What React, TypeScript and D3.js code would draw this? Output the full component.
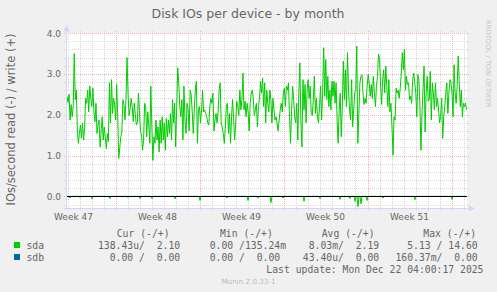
import React from "react";
import * as d3 from "d3";

const W = 497;
const H = 292;

const chartTitle = "Disk IOs per device - by month";
const yAxisLabel = "IOs/second read (-) / write (+)";
const watermark = "RRDTOOL / TOBI OETIKER";
const versionText = "Munin 2.0.33-1";
const lastUpdate = "Last update: Mon Dec 22 04:00:17 2025";

const startTime = "2025-11-18T23:00:00Z";
const endTime = "2025-12-22T07:00:00Z";
const sampleHours = 2;

const yMajorTicks = [0, 1, 2, 3, 4];
const yMinorTicks = [-0.2, 0.2, 0.4, 0.6, 0.8, 1.2, 1.4, 1.6, 1.8, 2.2, 2.4, 2.6, 2.8, 3.2, 3.4, 3.6, 3.8];

const weekLabels = ["Week 47", "Week 48", "Week 49", "Week 50", "Week 51"];
const weekGridDates = ["2025-11-23", "2025-11-30", "2025-12-07", "2025-12-14", "2025-12-21"];

// sda write (+), samples
const sdaWrite = [
  2.45, 2.3, 2.5, 1.87, 2.25, 1.95, 2.2, 3.5, 2.37, 2.6, 1.6, 1.3, 1.55, 1.75, 1.42, 1.8, 1.38, 1.67, 2.4, 2.28,
  2.6, 2.07, 2.7, 2.4, 2.2, 2.65, 2.07, 1.83, 2.28, 1.54, 1.75, 1.87, 1.21, 1.6, 1.95, 1.38, 1.7, 1.45, 1.17, 1.54,
  1.34, 2.78, 1.8, 2.86, 2.03, 2.4, 2.25, 1.87, 2.74, 1.95, 0.93, 1.2, 1.46, 1.58, 2.37, 2.25, 1.87, 2.37, 3.4, 2.5,
  1.98, 2.15, 2.4, 2.2, 1.83, 2.28, 2.0, 1.75, 1.8, 2.53, 2.1, 1.6, 1.5, 1.13, 1.38,
  2.28, 2.2, 1.46, 2.07, 1.75, 1.3, 2.7, 1.7, 0.88, 1.46, 1.3, 1.87, 1.38, 1.7, 1.09, 1.87, 1.3, 1.95, 1.38, 1.8,
  1.13, 1.91, 1.46, 1.87, 1.54, 2.03, 1.38, 2.37, 1.8, 2.28, 1.21, 2.2, 3.15, 2.78, 2.2, 1.95, 2.37, 1.38, 2.7, 1.87,
  1.54, 2.28, 2.12, 1.6, 2.6, 2.49, 2.07, 1.54, 2.12, 2.6, 2.82, 1.3, 2.12, 2.2, 1.8, 2.12, 2.6, 2.07, 2.12, 2.03,
  1.95, 1.8, 1.75, 2.2, 2.4, 2.28, 2.53, 1.6, 1.87, 2.03, 1.8, 2.07, 2.6,
  2.78, 1.8, 1.7, 1.54, 1.3, 1.7, 2.25, 2.28, 1.54, 2.03, 1.3, 1.95, 2.37, 1.87, 1.38, 1.8, 2.33, 2.2, 1.98, 2.6,
  2.12, 2.37, 3.02, 2.12, 2.33, 1.95, 2.28, 2.07, 1.6, 2.28, 2.53, 2.6, 2.4, 1.98, 2.12, 2.28, 1.7, 2.2, 2.4, 2.82,
  2.53, 2.9, 2.2, 2.78, 1.8, 2.6, 2.28, 2.07, 2.6, 2.37, 1.8, 2.4, 2.12, 1.87, 1.95, 1.8, 1.6, 1.87, 2.12, 2.28,
  2.07, 2.53, 2.65, 2.2, 2.7, 2.6, 2.78, 1.95, 1.3, 2.12, 2.7, 2.37, 1.95, 1.8, 2.28, 1.38, 2.53, 3.27, 1.8, 1.21,
  2.86, 2.12, 2.74, 1.8, 2.6, 2.86, 2.4, 2.7, 2.03, 1.98, 2.37, 2.94, 2.03, 2.4, 1.95, 1.8, 2.2, 2.7, 1.87, 2.53,
  3.64, 2.45, 3.35, 2.37, 2.94, 2.2, 2.6, 2.12, 2.82, 2.45, 2.82, 2.28, 2.78, 1.87, 1.3, 2.12, 2.53, 1.46, 2.2, 3.31,
  2.37, 3.1, 2.2, 3.52, 2.6, 2.12, 1.87, 2.86, 1.7, 2.12, 2.53, 2.6, 3.68, 1.3, 2.03, 2.78, 2.94, 2.98, 2.53, 2.25,
  2.4, 2.28, 2.7, 2.98, 2.78, 2.45, 2.74, 2.4, 2.94, 2.53, 2.2, 2.7, 2.94, 3.48, 3.35, 2.7, 2.25, 2.86, 3.1, 2.53,
  3.19, 2.7, 2.2, 2.86, 2.07, 2.28, 1.7, 1.01, 1.95, 1.87, 2.65, 2.53, 2.6, 2.4, 2.65, 3.02, 3.52, 3.1, 3.6, 2.6,
  2.94, 2.74, 2.78, 2.37, 2.45, 2.28, 2.86, 3.02, 2.78, 2.53, 1.95, 2.98, 2.86, 2.2, 1.13, 2.03, 2.6, 3.19, 1.58, 2.53,
  2.94, 2.33, 2.37, 3.06, 1.87, 2.78, 2.53, 2.12, 2.78, 2.2, 2.4, 2.12, 1.8, 1.95, 2.4, 1.42, 1.95, 2.2, 2.53, 2.78,
  2.03, 2.53, 2.86, 2.78, 2.53, 1.95, 3.22, 2.53, 2.28, 2.7, 3.44, 2.78, 2.2, 2.6, 1.95, 2.28, 2.2, 2.28, 2.12,
];

// sda read (-): near zero, with these spikes [hours after start, value]
const sdaReadSpikes: [number, number][] = [
  [6, 0.04], [26, 0.03], [50, 0.06], [86, 0.05], [122, 0.03], [146, 0.05], [170, 0.05], [216, 0.06],
  [266, 0.1], [320, 0.04], [362, 0.1], [382, 0.04], [408, 0.15], [432, 0.04], [474, 0.12], [506, 0.05],
  [546, 0.07], [566, 0.05], [576, 0.12], [582, 0.25], [588, 0.18], [600, 0.1], [632, 0.04], [696, 0.08],
  [770, 0.07],
];

const sdbValues = [0, 0];

const legendHeaders = ["Cur (-/+)", "Min (-/+)", "Avg (-/+)", "Max (-/+)"];
const seriesNames = ["sda", "sdb"];
const seriesColors = ["#00CC00", "#0066B3"];
const sdaLegend = ["138.43u/  2.10 ", "  0.00 /135.24m", "  8.03m/  2.19 ", "  5.13 / 14.60 "];
const sdbLegend = ["  0.00 /  0.00 ", "  0.00 /  0.00 ", " 43.40u/  0.00 ", "160.37m/  0.00 "];

const PLOT = { left: 67, right: 467, top: 33, bottom: 208 };
const FONT = "'DejaVu Sans', sans-serif";
const MONO = "'DejaVu Sans Mono', monospace";
const TEXT = "#666666";
const AXIS = "#CFD6F8";
const GRID = "#D6D6D6";
const MGRID = "#F0B2B2";

const px = (v: number) => Math.round(v) + 0.5;

export default function App() {
  const t0 = new Date(startTime);
  const t1 = new Date(endTime);
  const x = d3.scaleTime().domain([t0, t1]).range([PLOT.left, PLOT.right]);
  const y = d3.scaleLinear().domain([-0.283, 4]).range([PLOT.bottom, PLOT.top]);
  const hour = 3600e3;

  const idxWrite = d3.scaleLinear().domain([0, sdaWrite.length - 1]).range([t0.getTime(), t1.getTime() - hour]);
  const idxSdb = d3.scaleLinear().domain([0, sdbValues.length - 1]).range([t0.getTime(), t1.getTime() - hour]);

  const line = d3
    .line<[number, number]>()
    .x((d) => d[0])
    .y((d) => d[1]);

  const writePath = line(sdaWrite.map((v, i) => [x(new Date(idxWrite(i))), y(v)]));

  const spikeMap = new Map(sdaReadSpikes.map(([h, v]) => [h, v]));
  const readHours = d3.range(0, (t1.getTime() - t0.getTime()) / hour, sampleHours);
  const readPath = line(
    readHours.map((h) => [x(new Date(t0.getTime() + h * hour)), y(-(spikeMap.get(h) ?? 0))])
  );
  const sdbPath = line(sdbValues.map((v, i) => [x(new Date(idxSdb(i))), y(-v)]));

  const days = d3.utcDay.range(t0, t1);
  const weekDates = weekGridDates.map((d) => new Date(d + "T00:00:00Z"));
  const weekMs = 7 * 86400e3;

  const cellX = [98, 198, 297, 395.5];
  const headerX = [116.7, 220, 321.7, 423.3];

  return (
    <svg width={W} height={H} style={{ display: "block", position: "absolute", left: 0, top: 0 }}>
      <rect x={0} y={0} width={W} height={H} fill="#F0F0F0" />
      <text x={248} y={18} textAnchor="middle" fontFamily={FONT} fontSize={12.5} fill={TEXT}>
        {chartTitle}
      </text>
      <rect x={PLOT.left} y={PLOT.top} width={PLOT.right - PLOT.left} height={PLOT.bottom - PLOT.top} fill="#FFFFFF" />

      {yMinorTicks.map((v) => (
        <line key={"hm" + v} x1={PLOT.left - 3} x2={PLOT.right + 2} y1={px(y(v))} y2={px(y(v))} stroke={GRID} strokeDasharray="1,1" />
      ))}
      {days.map((d) => (
        <line key={"vm" + d.getTime()} x1={px(x(d))} x2={px(x(d))} y1={PLOT.top - 2} y2={PLOT.bottom + 2} stroke={GRID} strokeDasharray="1,1" />
      ))}
      {yMajorTicks.map((v) => (
        <line key={"hM" + v} x1={PLOT.left - 3} x2={PLOT.right + 2} y1={px(y(v))} y2={px(y(v))} stroke={MGRID} strokeDasharray="1,1" />
      ))}
      {weekDates.map((d) => (
        <line key={"vM" + d.getTime()} x1={px(x(d))} x2={px(x(d))} y1={PLOT.top - 2} y2={PLOT.bottom + 2} stroke={MGRID} strokeDasharray="1,1" />
      ))}

      {yMajorTicks.map((v) => (
        <text key={"yl" + v} x={61} y={y(v) + 3.5} textAnchor="end" fontFamily={FONT} fontSize={9} fill={TEXT}>
          {d3.format(".1f")(v)}
        </text>
      ))}
      {weekDates.map((d, i) => (
        <text key={"xl" + i} x={x(new Date(d.getTime() - weekMs / 2))} y={220} textAnchor="middle" fontFamily={FONT} fontSize={9} fill={TEXT}>
          {weekLabels[i]}
        </text>
      ))}

      <path d={writePath || ""} fill="none" stroke={seriesColors[0]} strokeWidth={1} />
      <path d={readPath || ""} fill="none" stroke={seriesColors[0]} strokeWidth={1} />
      <path d={sdbPath || ""} fill="none" stroke={seriesColors[1]} strokeWidth={1} />
      <line x1={PLOT.left} x2={PLOT.right} y1={px(y(0))} y2={px(y(0))} stroke="#000000" strokeWidth={1} />

      <line x1={PLOT.left - 0.5} x2={PLOT.left - 0.5} y1={PLOT.bottom + 2} y2={PLOT.top - 4} stroke={AXIS} />
      <path d={`M${PLOT.left - 3.5},${PLOT.top - 2} L${PLOT.left - 0.5},${PLOT.top - 8} L${PLOT.left + 2.5},${PLOT.top - 2} Z`} fill={AXIS} />
      <line x1={PLOT.left - 3} x2={PLOT.right + 3} y1={PLOT.bottom + 0.5} y2={PLOT.bottom + 0.5} stroke={AXIS} />
      <path d={`M${PLOT.right + 2},${PLOT.bottom - 2.5} L${PLOT.right + 8},${PLOT.bottom + 0.5} L${PLOT.right + 2},${PLOT.bottom + 3.5} Z`} fill={AXIS} />

      <text transform={`translate(15,${(PLOT.top + PLOT.bottom) / 2 - 1}) rotate(-90)`} textAnchor="middle" fontFamily={FONT} fontSize={11.5} fill={TEXT}>
        {yAxisLabel}
      </text>
      <text transform={`translate(486,20) rotate(90)`} textAnchor="start" fontFamily={FONT} fontSize={6.8} fill="#C4C4C4">
        {watermark}
      </text>

      {legendHeaders.map((h, i) => (
        <text key={"lh" + i} x={headerX[i]} y={237} fontFamily={MONO} fontSize={9.75} fill={TEXT} xmlSpace="preserve" style={{ whiteSpace: "pre" }}>
          {h}
        </text>
      ))}
      {[sdaLegend, sdbLegend].map((row, r) => (
        <g key={"lr" + r}>
          <rect x={14} y={242 + r * 12} width={6} height={6} fill={seriesColors[r]} />
          <text x={26.5} y={249 + r * 12} fontFamily={MONO} fontSize={9.75} fill={TEXT}>
            {seriesNames[r]}
          </text>
          {row.map((c, i) => (
            <text key={"c" + i} x={cellX[i]} y={249 + r * 12} fontFamily={MONO} fontSize={9.75} fill={TEXT} xmlSpace="preserve" style={{ whiteSpace: "pre" }}>
              {c}
            </text>
          ))}
        </g>
      ))}
      <text x={483.5} y={273} textAnchor="end" fontFamily={MONO} fontSize={9.75} fill={TEXT}>
        {lastUpdate}
      </text>
      <text x={248.5} y={283.5} textAnchor="middle" fontFamily={FONT} fontSize={7.2} fill="#BBBBBB">
        {versionText}
      </text>
    </svg>
  );
}
